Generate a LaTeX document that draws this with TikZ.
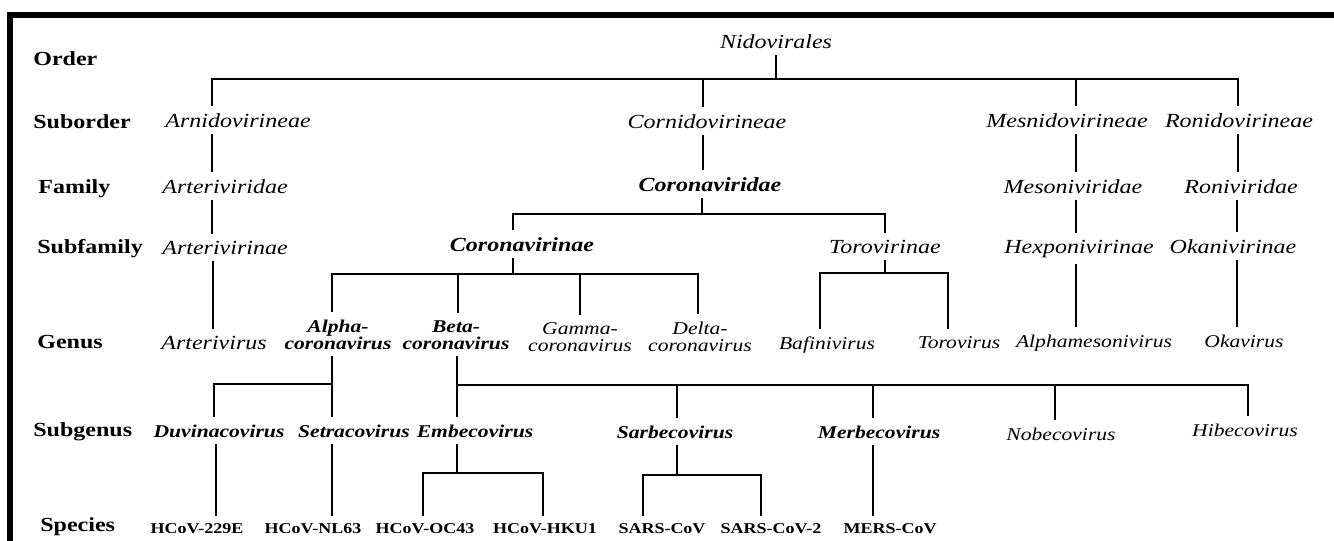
\documentclass[tikz,border=0pt]{standalone}
\usepackage{fontspec}
\setmainfont{Liberation Serif}[FakeStretch=1.2]

\begin{document}
\begin{tikzpicture}[x=0.5pt,y=-0.5pt,
  rank/.style={font=\bfseries,anchor=base west,inner sep=0pt},
  taxon/.style={font=\itshape,anchor=base},
  keytaxon/.style={font=\bfseries\itshape,anchor=base},
  subtaxon/.style={font=\fontsize{9}{8.5}\selectfont\itshape,anchor=base,align=center},
  subkey/.style={font=\fontsize{9}{8.5}\selectfont\bfseries\itshape,anchor=base,align=center},
  species/.style={font=\fontsize{7.5}{9}\selectfont\bfseries,anchor=base},
  branch/.style={line width=1.4pt}]
\useasboundingbox (0,0) rectangle (1334,541);
\draw[line width=3pt] (10,541) -- (10,15) -- (1334,15);
% rank labels
\node[rank] (lorder) at (33,65) {Order};
\node[rank] (lsuborder) at (33,128) {Suborder};
\node[rank] (lfamily) at (38,193) {Family};
\node[rank] (lsubfamily) at (37,253) {Subfamily};
\node[rank] (lgenus) at (37,348) {Genus};
\node[rank] (lsubgenus) at (33,436) {Subgenus};
\node[rank] (lspecies) at (40,531) {Species};
% taxa
\node[taxon] (nido) at (776,48) {Nidovirales};
\node[taxon] (arni) at (238,127) {Arnidovirineae};
\node[taxon] (corni) at (707,128) {Cornidovirineae};
\node[taxon] (mesni) at (1067,127) {Mesnidovirineae};
\node[taxon] (roni) at (1239,127) {Ronidovirineae};
\node[taxon] (arte) at (225,193) {Arteriviridae};
\node[keytaxon] (corov) at (710,191) {Coronaviridae};
\node[taxon] (meso) at (1073,193) {Mesoniviridae};
\node[taxon] (ronv) at (1241,193) {Roniviridae};
\node[taxon] (arterin) at (225,254) {Arterivirinae};
\node[keytaxon] (corin) at (522,251) {Coronavirinae};
\node[taxon] (torin) at (885,253) {Torovirinae};
\node[taxon] (hexp) at (1079,253) {Hexponivirinae};
\node[taxon] (okan) at (1233,253) {Okanivirinae};
\node[taxon] (artv) at (214,349) {Arterivirus};
\node[subkey] (alpha) at (338,349) {Alpha-\\coronavirus};
\node[subkey] (beta) at (456,349) {Beta-\\coronavirus};
\node[subtaxon] (gamma) at (580,351) {Gamma-\\coronavirus};
\node[subtaxon] (delta) at (700,351) {Delta-\\coronavirus};
\node[subtaxon] (bafi) at (827,349) {Bafinivirus};
\node[subtaxon] (torv) at (959,348) {Torovirus};
\node[subtaxon] (alme) at (1094,347) {Alphamesonivirus};
\node[subtaxon] (okav) at (1244,347) {Okavirus};
\node[subkey] (duvi) at (219,437) {Duvinacovirus};
\node[subkey] (setra) at (354,437) {Setracovirus};
\node[subkey] (embe) at (475,437) {Embecovirus};
\node[subkey] (sarb) at (675,438) {Sarbecovirus};
\node[subkey] (merb) at (879,438) {Merbecovirus};
\node[subtaxon] (nobe) at (1061,440) {Nobecovirus};
\node[subtaxon] (hibe) at (1245,436) {Hibecovirus};
\node[species] (h229) at (197,533) {HCoV-229E};
\node[species] (nl63) at (313,533) {HCoV-NL63};
\node[species] (oc43) at (425,533) {HCoV-OC43};
\node[species] (hku1) at (545,533) {HCoV-HKU1};
\node[species] (sars) at (662,533) {SARS-CoV};
\node[species] (sars2) at (771,533) {SARS-CoV-2};
\node[species] (mers) at (890,533) {MERS-CoV};
% order -> suborders
\draw[branch] (nido.south) |- (212,79) -- (arni.north -| 212,0);
\draw[branch] (nido.south) |- (703,79) -- (corni.north -| 703,0);
\draw[branch] (nido.south) |- (1076,79) -- (mesni.north -| 1076,0);
\draw[branch] (nido.south) |- (1238,79) -- (roni.north -| 1238,0);
% single lines
\draw[branch] (arni.south -| 212,0) -- (arte.north -| 212,0);
\draw[branch] (arte.south -| 212,0) -- (arterin.north -| 212,0);
\draw[branch] (arterin.south -| 213,0) -- (artv.north -| 213,0);
\draw[branch] (corni.south -| 703,0) -- (corov.north -| 703,0);
\draw[branch] (mesni.south -| 1076,0) -- (meso.north -| 1076,0);
\draw[branch] (meso.south -| 1076,0) -- (hexp.north -| 1076,0);
\draw[branch] (hexp.south -| 1076,0) -- (alme.north -| 1076,0);
\draw[branch] (roni.south -| 1238,0) -- (ronv.north -| 1238,0);
\draw[branch] (ronv.south -| 1237,0) -- (okan.north -| 1237,0);
\draw[branch] (okan.south -| 1237,0) -- (okav.north -| 1237,0);
% Coronaviridae
\draw[branch] (corov.south -| 702,0) |- (513,214) -- (corin.north -| 513,0);
\draw[branch] (corov.south -| 702,0) |- (885,214) -- (torin.north -| 885,0);
\draw[branch] (corin.south -| 513,0) |- (332,274) -- (alpha.north -| 332,0);
\draw[branch] (corin.south -| 513,0) |- (458,274) -- (beta.north -| 458,0);
\draw[branch] (corin.south -| 513,0) |- (580,274) -- (gamma.north -| 580,0);
\draw[branch] (corin.south -| 513,0) |- (698,274) -- (delta.north -| 698,0);
\draw[branch] (torin.south) |- (820,273) -- (bafi.north -| 820,0);
\draw[branch] (torin.south) |- (948,273) -- (torv.north -| 948,0);
% subgenera
\draw[branch] (alpha.south -| 332,0) |- (214,384) -- (duvi.north -| 214,0);
\draw[branch] (alpha.south -| 332,0) -- (setra.north -| 332,0);
\draw[branch] (beta.south -| 457,0) -- (embe.north -| 457,0);
\draw[branch] (beta.south -| 457,0) |- (677,385) -- (sarb.north -| 677,0);
\draw[branch] (beta.south -| 457,0) |- (873,385) -- (merb.north -| 873,0);
\draw[branch] (beta.south -| 457,0) |- (1055,385) -- (nobe.north -| 1055,0);
\draw[branch] (beta.south -| 457,0) |- (1248,385) -- (hibe.north -| 1248,0);
% species
\draw[branch] (duvi.south -| 216,0) -- (h229.north -| 216,0);
\draw[branch] (setra.south -| 332,0) -- (nl63.north -| 332,0);
\draw[branch] (embe.south -| 457,0) |- (423,473) -- (oc43.north -| 423,0);
\draw[branch] (embe.south -| 457,0) |- (543,473) -- (hku1.north -| 543,0);
\draw[branch] (sarb.south -| 677,0) |- (643,475) -- (sars.north -| 643,0);
\draw[branch] (sarb.south -| 677,0) |- (761,475) -- (sars2.north -| 761,0);
\draw[branch] (merb.south -| 873,0) -- (mers.north -| 873,0);
\end{tikzpicture}
\end{document}
